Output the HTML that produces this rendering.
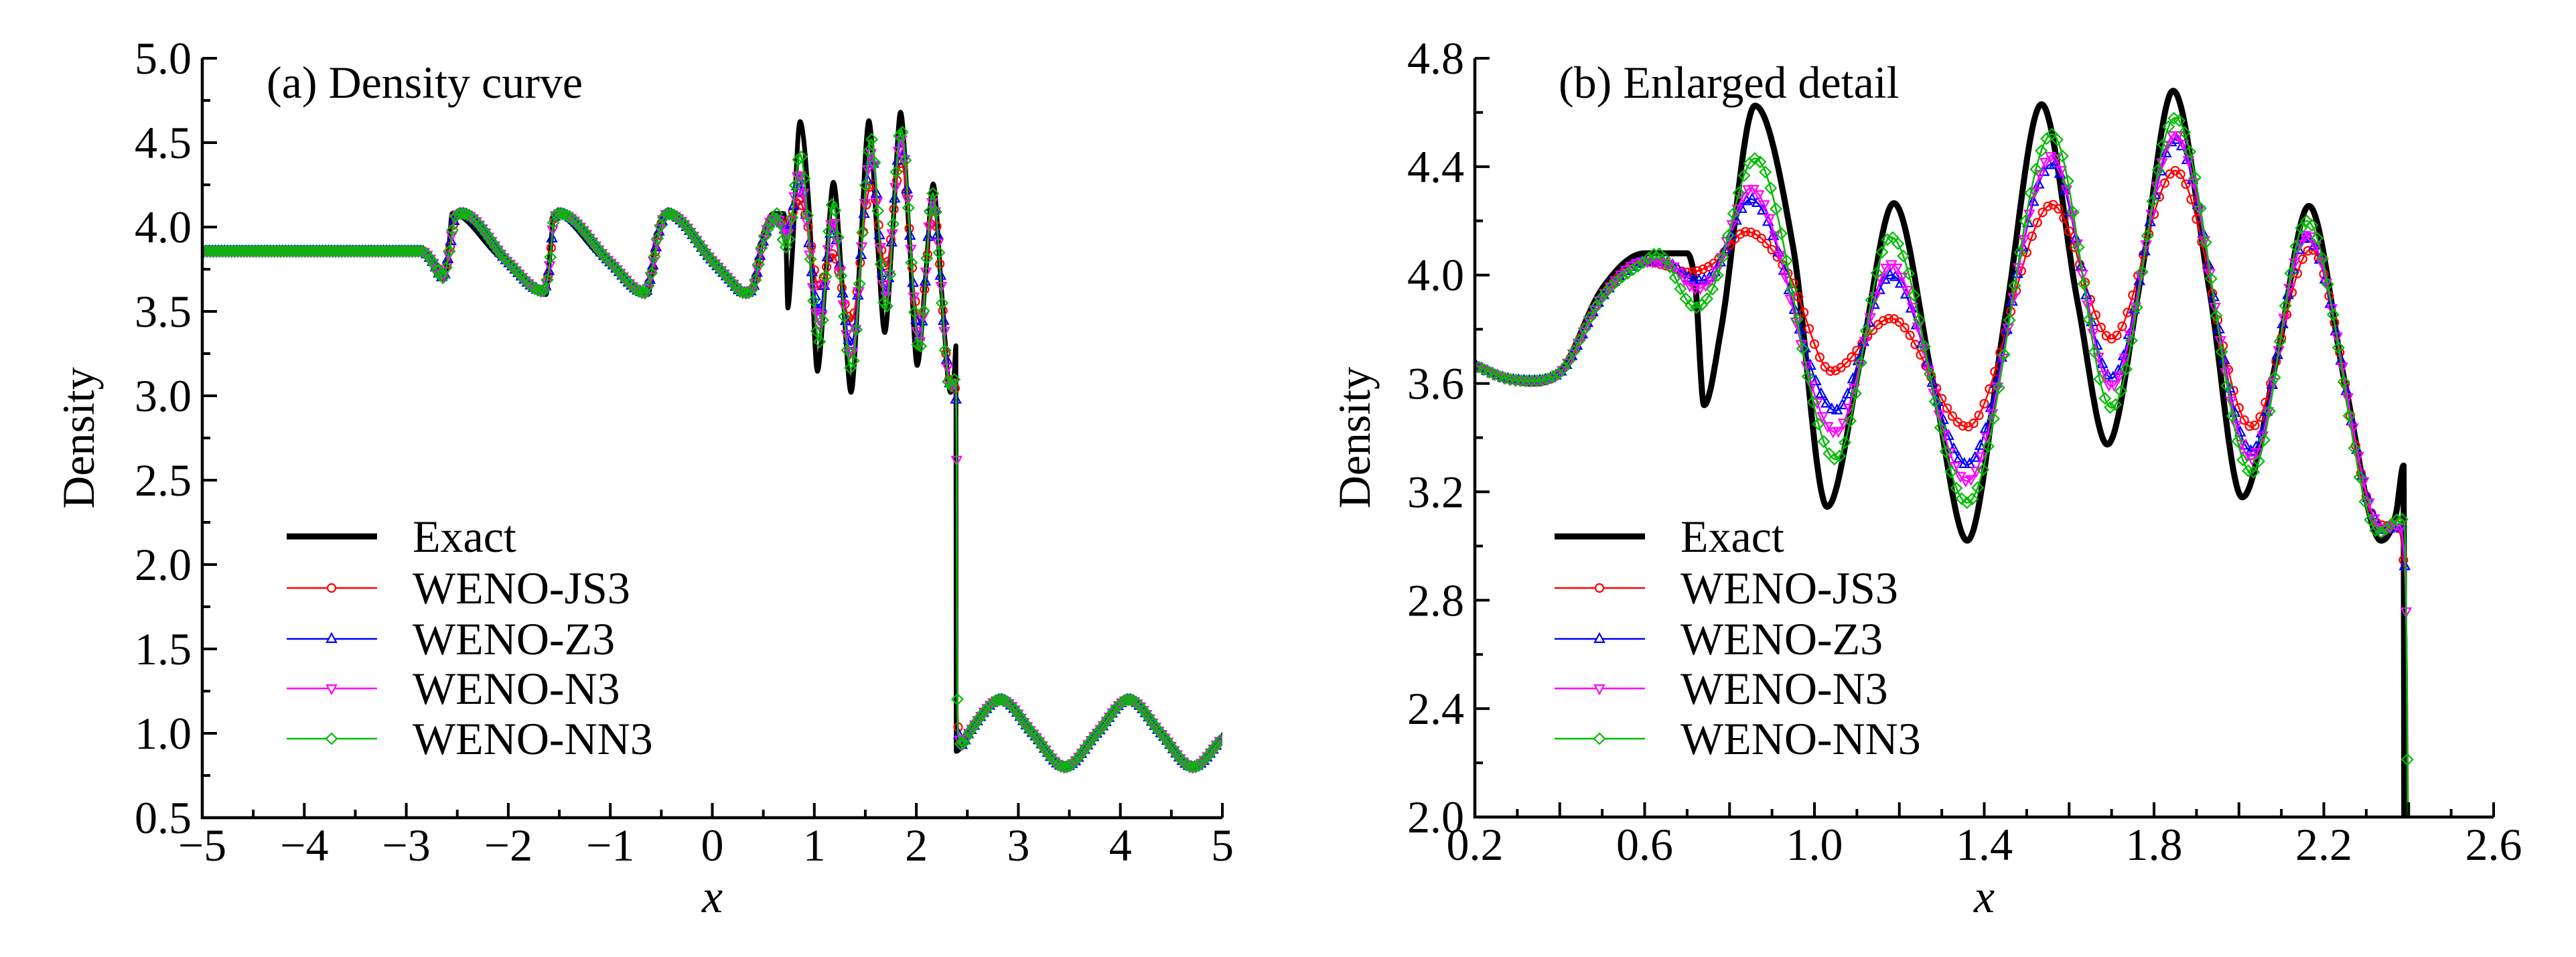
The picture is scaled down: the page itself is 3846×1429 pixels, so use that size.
<!DOCTYPE html>
<html><head><meta charset="utf-8">
<style>
html,body{margin:0;padding:0;background:#fff;width:3846px;height:1429px;overflow:hidden;}
svg{display:block;}
text{font-family:"Liberation Serif","DejaVu Serif",serif;fill:#000;}
</style></head>
<body>
<svg id="chart" width="3846" height="1429" viewBox="0 0 3846 1429" font-family="'Liberation Serif', 'DejaVu Serif', serif" xmlns="http://www.w3.org/2000/svg">
<rect width="3846" height="1429" fill="#fff"/>
</svg>
<script>
// ---- Exact solution ----
const exactX = [-5, -2.85, -2.75, -2.62, -2.58, -2.55, -2.1, -1.63, -1.59, -1.55, -1.1, -0.63, -0.56, -0.45, 0.0, 0.2, 0.27, 0.33, 0.4, 0.5, 0.6, 0.7, 0.72, 0.74, 0.78, 0.86, 0.95, 1.03, 1.11, 1.187, 1.28, 1.36, 1.45, 1.535, 1.62, 1.69, 1.77, 1.845, 1.93, 2.008, 2.09, 2.165, 2.25, 2.335, 2.37, 2.388, 2.3905, 2.513, 2.827, 3.142, 3.456, 3.77, 4.084, 4.398, 4.712, 5.0];
const exactY = [3.857, 3.857, 3.8, 3.72, 3.9, 4.08, 3.83, 3.6, 3.85, 4.08, 3.83, 3.6, 3.9, 4.08, 3.80, 3.667, 3.62, 3.60, 3.64, 3.95, 4.08, 4.08, 3.95, 3.52, 3.8, 4.625, 4.1, 3.145, 3.7, 4.265, 3.6, 3.02, 3.85, 4.63, 3.9, 3.375, 4.0, 4.68, 3.95, 3.18, 3.7, 4.255, 3.6, 3.02, 3.12, 3.297, 0.893, 1.0, 1.2, 1.0, 0.8, 1.0, 1.2, 1.0, 0.8, 0.97];
// ---- Shared numerical data outside the oscillation region ----
const numLeftX = [-5, -2.85, -2.75, -2.64, -2.58, -2.52, -2.45, -2.0, -1.66, -1.60, -1.55, -1.5, -1.0, -0.66, -0.6, -0.52, -0.44, 0.0, 0.2, 0.27, 0.33, 0.4, 0.5, 0.6];
const numLeftY = [3.857, 3.857, 3.80, 3.70, 3.85, 4.06, 4.08, 3.79, 3.62, 3.75, 4.05, 4.08, 3.79, 3.61, 3.72, 3.98, 4.08, 3.80, 3.667, 3.62, 3.61, 3.64, 3.92, 4.05];
const numRightX = [2.513, 2.827, 3.142, 3.456, 3.77, 4.084, 4.398, 4.712, 5.0];
const numRightY = [1.0, 1.2, 1.0, 0.8, 1.0, 1.2, 1.0, 0.8, 0.97];
// ---- Per-scheme oscillation region ----
const js3X = [0.66, 0.7, 0.76, 0.84, 0.94, 1.04, 1.18, 1.36, 1.56, 1.70, 1.85, 2.03, 2.17, 2.33, 2.37, 2.386, 2.395, 2.40, 2.405, 2.415, 2.44];
const js3Y = [4.03, 4.01, 4.04, 4.16, 4.0, 3.645, 3.84, 3.44, 4.26, 3.765, 4.385, 3.44, 4.095, 3.08, 3.07, 2.97, 2.64, 1.75, 1.2, 1.0, 0.93];
const z3X = [0.66, 0.72, 0.76, 0.85, 1.05, 1.18, 1.36, 1.56, 1.70, 1.85, 2.03, 2.16, 2.34, 2.375, 2.386, 2.395, 2.40, 2.405, 2.415, 2.44];
const z3Y = [4.04, 3.98, 4.0, 4.28, 3.50, 4.00, 3.30, 4.41, 3.62, 4.50, 3.35, 4.14, 3.06, 3.07, 3.0, 2.62, 1.57, 1.1, 1.0, 0.93];
const n3X = [0.66, 0.72, 0.76, 0.85, 1.05, 1.18, 1.36, 1.56, 1.70, 1.85, 2.03, 2.16, 2.34, 2.375, 2.386, 2.395, 2.40, 2.405, 2.415, 2.44];
const n3Y = [4.04, 3.95, 3.99, 4.32, 3.42, 4.04, 3.24, 4.44, 3.59, 4.52, 3.32, 4.15, 3.06, 3.08, 3.02, 2.62, 1.55, 1.1, 1.0, 0.93];
const nn3X = [0.63, 0.72, 0.76, 0.86, 1.05, 1.18, 1.36, 1.56, 1.70, 1.85, 2.03, 2.16, 2.33, 2.38, 2.39, 2.395, 2.40, 2.405, 2.415, 2.44];
const nn3Y = [4.08, 3.88, 3.95, 4.43, 3.32, 4.14, 3.16, 4.52, 3.51, 4.58, 3.27, 4.20, 3.05, 3.10, 3.08, 2.60, 1.52, 1.05, 0.98, 0.93];
// ---- Ticks ----
const ticksAX = [-5, -4, -3, -2, -1, 0, 1, 2, 3, 4, 5];
const ticksAXLabels = ["\u22125", "\u22124", "\u22123", "\u22122", "\u22121", "0", "1", "2", "3", "4", "5"];
const ticksAY = [0.5, 1.0, 1.5, 2.0, 2.5, 3.0, 3.5, 4.0, 4.5, 5.0];
const ticksAYLabels = ["0.5", "1.0", "1.5", "2.0", "2.5", "3.0", "3.5", "4.0", "4.5", "5.0"];
const ticksBX = [0.2, 0.6, 1.0, 1.4, 1.8, 2.2, 2.6];
const ticksBXLabels = ["0.2", "0.6", "1.0", "1.4", "1.8", "2.2", "2.6"];
const ticksBY = [2.0, 2.4, 2.8, 3.2, 3.6, 4.0, 4.4, 4.8];
const ticksBYLabels = ["2.0", "2.4", "2.8", "3.2", "3.6", "4.0", "4.4", "4.8"];
const seriesNames = ["Exact", "WENO-JS3", "WENO-Z3", "WENO-N3", "WENO-NN3"];

const NS = "http://www.w3.org/2000/svg";
const FONT = "'Liberation Serif', 'DejaVu Serif', serif";
const svg = document.getElementById('chart');
function mk(tag, attrs, parent) {
  const e = document.createElementNS(NS, tag);
  for (const k in attrs) e.setAttribute(k, attrs[k]);
  if (tag === 'text') e.setAttribute('font-family', FONT);
  (parent || svg).appendChild(e);
  return e;
}
function monotone(xs, ys) {
  const n = xs.length, d = [], m = new Array(n);
  for (let i = 0; i < n - 1; i++) d.push((ys[i+1]-ys[i])/(xs[i+1]-xs[i]));
  m[0] = d[0]; m[n-1] = d[n-2];
  for (let i = 1; i < n-1; i++) m[i] = (d[i-1]*d[i] <= 0) ? 0 : (d[i-1]+d[i])/2;
  for (let i = 0; i < n-1; i++) {
    if (d[i] === 0) { m[i] = 0; m[i+1] = 0; continue; }
    const a = m[i]/d[i], b = m[i+1]/d[i], s = a*a + b*b;
    if (s > 9) { const t = 3/Math.sqrt(s); m[i] = t*a*d[i]; m[i+1] = t*b*d[i]; }
  }
  return function(x) {
    if (x <= xs[0]) return ys[0];
    if (x >= xs[n-1]) return ys[n-1];
    let i = 0; while (x > xs[i+1]) i++;
    const h = xs[i+1]-xs[i], t = (x-xs[i])/h, t2 = t*t, t3 = t2*t;
    return (2*t3-3*t2+1)*ys[i] + (t3-2*t2+t)*h*m[i] + (-2*t3+3*t2)*ys[i+1] + (t3-t2)*h*m[i+1];
  };
}
const exactF = monotone(exactX, exactY);
const js3F = monotone(numLeftX.concat(js3X, numRightX), numLeftY.concat(js3Y, numRightY));
const z3F = monotone(numLeftX.concat(z3X, numRightX), numLeftY.concat(z3Y, numRightY));
const n3F = monotone(numLeftX.concat(n3X, numRightX), numLeftY.concat(n3Y, numRightY));
const nn3F = monotone(numLeftX.concat(nn3X, numRightX), numLeftY.concat(nn3Y, numRightY));

function markerPath(type, x, y) {
  if (type === 'circle') return `M${x-6},${y}a6,6 0 1,0 12,0a6,6 0 1,0 -12,0`;
  if (type === 'up') return `M${x},${y-8}L${x+7},${y+5}L${x-7},${y+5}Z`;
  if (type === 'down') return `M${x},${y+8}L${x+7},${y-5}L${x-7},${y-5}Z`;
  return `M${x},${y-8}L${x+8},${y}L${x},${y+8}L${x-8},${y}Z`;
}

function panel(cfg) {
  const {id, L, R, T, B, x0, x1, y0, y1} = cfg;
  const sx = v => L + (v - x0) / (x1 - x0) * (R - L);
  const syRaw = v => B - (v - y0) / (y1 - y0) * (B - T);
  const sy = v => Math.min(syRaw(v), B + 15);
  const g = mk('g', {});
  
  
  const clipId = id + '-clip';
  const cp = mk('clipPath', {id: clipId}, g);
  mk('rect', {x: L, y: T - 40, width: R - L, height: B - T + 40}, cp);
  const plot = mk('g', {'clip-path': `url(#${clipId})`}, g);
  
  

  function samples(xsData, step) {
    const s = [];
    for (let v = x0; v <= x1 + 1e-9; v += step) s.push(v);
    xsData.forEach(v => { if (v >= x0 && v <= x1) s.push(v); });
    s.sort((a, b) => a - b);
    return s;
  }
  const fine = (x1 - x0) / 3000;
  let pts = samples(exactX, fine).map(v => `${sx(v).toFixed(1)},${sy(exactF(v)).toFixed(1)}`);
  const ex = mk('path', {d: 'M' + pts.join('L'), fill: 'none', stroke: '#000', 'stroke-width': cfg.exW, 'stroke-linejoin': 'round'}, plot);
  
  

  const series = [
    {name: 'weno-js3', f: js3F, xs: numLeftX.concat(js3X, numRightX), color: '#ff0000', m: 'circle', off: 0},
    {name: 'weno-z3', f: z3F, xs: numLeftX.concat(z3X, numRightX), color: '#0000ff', m: 'up', off: 0.25},
    {name: 'weno-n3', f: n3F, xs: numLeftX.concat(n3X, numRightX), color: '#ff00ff', m: 'down', off: 0.5},
    {name: 'weno-nn3', f: nn3F, xs: numLeftX.concat(nn3X, numRightX), color: '#00bb00', m: 'diamond', off: 0.75}
  ];
  series.forEach(s => {
    const sg = mk('g', {}, plot);
    
    
    const p = samples(s.xs, fine).map(v => `${sx(v).toFixed(1)},${sy(s.f(v)).toFixed(1)}`);
    const ln = mk('path', {d: 'M' + p.join('L'), fill: 'none', stroke: s.color, 'stroke-width': 2.5}, sg);
    
    
    let d = '';
    for (let v = x0 + s.off * cfg.mStep; v <= x1; v += cfg.mStep) {
      const yv = syRaw(s.f(v));
      if (yv > B + 8) continue;
      d += markerPath(s.m, sx(v), yv);
    }
    const mp = mk('path', {d: d, fill: 'none', stroke: s.color, 'stroke-width': 2.2}, sg);
    
    
  });

  const ax = mk('path', {d: `M${L},${T}L${L},${B}L${R},${B}`, fill: 'none', stroke: '#000', 'stroke-width': 4.5}, g);
  
  
  let td = '';
  cfg.xMaj.forEach(v => { td += `M${sx(v)},${B}L${sx(v)},${B-22}`; });
  cfg.xMin.forEach(v => { td += `M${sx(v)},${B}L${sx(v)},${B-12}`; });
  cfg.yMaj.forEach(v => { td += `M${L},${syRaw(v)}L${L+22},${syRaw(v)}`; });
  cfg.yMin.forEach(v => { td += `M${L},${syRaw(v)}L${L+12},${syRaw(v)}`; });
  const tk = mk('path', {d: td, fill: 'none', stroke: '#000', 'stroke-width': 4}, g);
  
  
  cfg.xT.forEach((v, i) => {
    const t = mk('text', {x: sx(v), y: B + 64, 'font-size': 68, 'text-anchor': 'middle'}, g);
    t.textContent = cfg.xL[i];
    
    
  });
  cfg.yT.forEach((v, i) => {
    const t = mk('text', {x: L - 16, y: syRaw(v) + 23, 'font-size': 68, 'text-anchor': 'end'}, g);
    t.textContent = cfg.yL[i];
    
    
  });
  const xl = mk('text', {x: (L + R) / 2, y: 1362, 'font-size': 70, 'font-style': 'italic', 'text-anchor': 'middle'}, g);
  xl.textContent = 'x';
  
  
  const yl = mk('text', {x: 0, y: 0, 'font-size': 68, 'text-anchor': 'middle', transform: `translate(${cfg.ylx},${(T + B) / 2}) rotate(-90)`}, g);
  yl.textContent = 'Density';
  
  
  const ti = mk('text', {x: cfg.tx, y: 146, 'font-size': 68}, g);
  ti.textContent = cfg.title;
  
  

  const lg = mk('g', {}, g);
  
  
  const rows = [801, 878, 954, 1028, 1103];
  const cols = ['#000', '#ff0000', '#0000ff', '#ff00ff', '#00bb00'];
  const mks = [null, 'circle', 'up', 'down', 'diamond'];
  seriesNames.forEach((nm, i) => {
    const eg = mk('g', {}, lg);
    
    
    const y = rows[i];
    mk('line', {x1: cfg.lgx, x2: cfg.lgx + 135, y1: y, y2: y, stroke: cols[i], 'stroke-width': i === 0 ? 9 : 2.5}, eg);
    if (mks[i]) mk('path', {d: markerPath(mks[i], cfg.lgx + 67, y), fill: '#fff', stroke: cols[i], 'stroke-width': 2.2}, eg);
    const t = mk('text', {x: cfg.lgx + 188, y: y + 23, 'font-size': 68}, eg);
    t.textContent = nm;
  });
}

panel({id: 'density-curve', L: 302, R: 1825, T: 87, B: 1221, x0: -5, x1: 5, y0: 0.5, y1: 5.0,
  exW: 7, mStep: 0.03, ylx: 140, tx: 398, title: '(a) Density curve', lgx: 428,
  xMaj: ticksAX, xMin: [-4.5, -3.5, -2.5, -1.5, -0.5, 0.5, 1.5, 2.5, 3.5, 4.5],
  yMaj: ticksAY, yMin: [0.75, 1.25, 1.75, 2.25, 2.75, 3.25, 3.75, 4.25, 4.75],
  xT: ticksAX, xL: ticksAXLabels, yT: ticksAY, yL: ticksAYLabels});
panel({id: 'enlarged-detail', L: 2202, R: 3723, T: 87, B: 1220, x0: 0.2, x1: 2.6, y0: 2.0, y1: 4.8,
  exW: 9, mStep: 0.0125, ylx: 2045, tx: 2327, title: '(b) Enlarged detail', lgx: 2321,
  xMaj: [0.2, 0.4, 0.6, 0.8, 1.0, 1.2, 1.4, 1.6, 1.8, 2.0, 2.2, 2.4, 2.6],
  xMin: [0.3, 0.5, 0.7, 0.9, 1.1, 1.3, 1.5, 1.7, 1.9, 2.1, 2.3, 2.5],
  yMaj: ticksBY, yMin: [2.2, 2.6, 3.0, 3.4, 3.8, 4.2, 4.6],
  xT: ticksBX, xL: ticksBXLabels, yT: ticksBY, yL: ticksBYLabels});
</script>
</body></html>
